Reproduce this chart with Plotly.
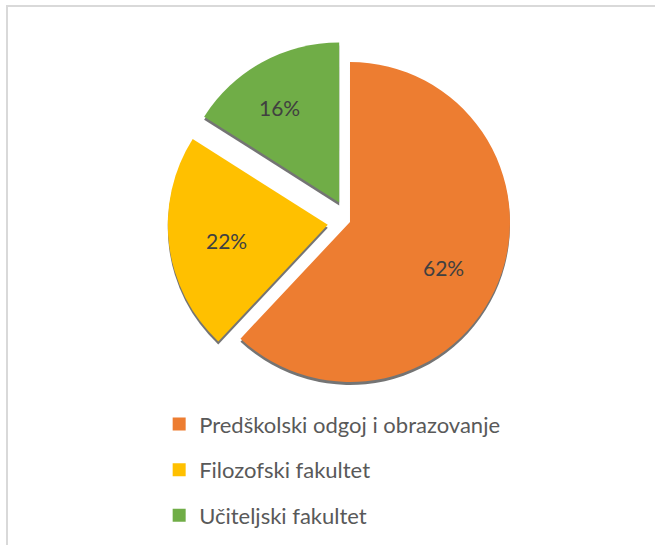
import math
import plotly.graph_objects as go

labels = ['Predškolski odgoj i obrazovanje', 'Filozofski fakultet', 'Učiteljski fakultet']
values = [62, 22, 16]
pulls = [0, 0.14, 0.14]

COLORS = ['#ED7D31', '#FFC000', '#70AD47']
TEXT_COLOR = '#404040'
LEGEND_COLOR = '#595959'
FONT = 'Lato'

W, H = 655, 545
dom_x = [0.2559, 0.8128]
dom_y = [0.258, 0.9273]

fig = go.Figure()

# soft shadow under the pie: same slices, grey, nudged down a little
sx, sy = 1 / W, 3 / H
fig.add_trace(go.Pie(
    labels=labels,
    values=values,
    pull=pulls,
    sort=False,
    direction='clockwise',
    marker=dict(colors=['rgba(70,70,70,0.75)'] * 3, line=dict(width=0)),
    textinfo='none',
    hoverinfo='skip',
    showlegend=False,
    domain=dict(x=[dom_x[0] - sx, dom_x[1] + sx], y=[dom_y[0] - sy, dom_y[1] - sy]),
))

fig.add_trace(go.Pie(
    labels=labels,
    values=values,
    pull=pulls,
    sort=False,
    direction='clockwise',
    marker=dict(colors=COLORS, line=dict(width=0)),
    textinfo='none',
    showlegend=False,
    domain=dict(x=dom_x, y=dom_y),
))

# percentage labels sit further out than plotly's own inside text,
# so place them along each slice's bisector (Excel style)
box = min((dom_x[1] - dom_x[0]) * W, (dom_y[1] - dom_y[0]) * H)
r = box / (2 + 2 * max(pulls))
cx = (dom_x[0] + dom_x[1]) / 2 * W
cy = (dom_y[0] + dom_y[1]) / 2 * H
total = sum(values)
annotations = []
start = 0
for v, p in zip(values, pulls):
    mid = (start + v / 2) / total * 2 * math.pi
    start += v
    d = r * (0.78 + p)
    annotations.append(dict(
        x=(cx + d * math.sin(mid)) / W,
        y=(cy + d * math.cos(mid)) / H,
        xref='paper', yref='paper', showarrow=False,
        text=f'{round(100 * v / total)}%',
        font=dict(family=FONT, size=21, color=TEXT_COLOR),
    ))

# legend entries, one group each so the rows can be spaced out
for name, col in zip(labels, COLORS):
    fig.add_trace(go.Scatter(
        x=[None], y=[None],
        mode='markers',
        name=name,
        legendgroup=name,
        marker=dict(symbol='square', size=13, color=col),
    ))

fig.update_layout(
    width=W,
    height=H,
    margin=dict(l=0, r=0, t=0, b=0),
    paper_bgcolor='white',
    plot_bgcolor='white',
    xaxis=dict(visible=False),
    yaxis=dict(visible=False),
    showlegend=True,
    legend=dict(
        x=0.243,
        y=0.26,
        xanchor='left',
        yanchor='top',
        traceorder='grouped',
        tracegroupgap=14,
        font=dict(family=FONT, size=22, color=LEGEND_COLOR),
        itemwidth=30,
    ),
    annotations=annotations,
    shapes=[dict(
        type='rect', xref='paper', yref='paper',
        x0=7 / W, x1=1.02, y0=-0.02, y1=1 - 6 / H,
        line=dict(color='#d9d9d9', width=2),
    )],
)

fig.write_html('out.html', config={'displayModeBar': False},
               post_script="document.body.style.margin='0';")
